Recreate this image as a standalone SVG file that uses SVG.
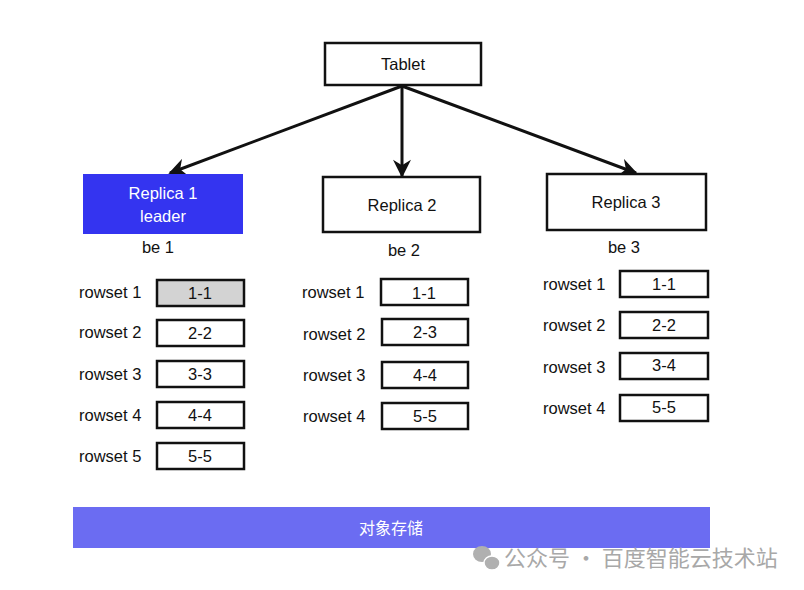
<svg xmlns="http://www.w3.org/2000/svg" width="804" height="590" viewBox="0 0 804 590">
<style>
text{font-family:"Liberation Sans",Arial,sans-serif;font-size:16.5px;fill:#111;}
.c{text-anchor:middle;dominant-baseline:central;}
.box{fill:#fff;stroke:#111;stroke-width:2.5;}
.rs{fill:#fff;stroke:#111;stroke-width:2.5;}
.lbl{text-anchor:start;dominant-baseline:central;}
.conn{stroke:#111;stroke-width:3;fill:none;marker-end:url(#ah);}
.wm{font-family:"Noto Sans CJK SC",sans-serif;font-size:22px;fill:#a8a8a8;}
</style>
<defs>
<marker id="ah" viewBox="0 0 10 10" refX="9" refY="5" markerWidth="6.5" markerHeight="6" orient="auto" markerUnits="strokeWidth">
<path d="M0,0 L10,5 L0,10 L3,5 z" fill="#111"/>
</marker>
</defs>
<rect width="804" height="590" fill="#fff"/>
<g id="connectors">
<line class="conn" x1="402" y1="86" x2="170" y2="173"/>
<line class="conn" x1="402" y1="86" x2="402" y2="176"/>
<line class="conn" x1="402" y1="86" x2="636" y2="173"/>
</g>
<g id="tablet">
<rect class="box" x="325" y="43" width="156" height="42"/>
<text class="c" x="403" y="64">Tablet</text>
</g>
<g id="replica1">
<rect x="83" y="174" width="160" height="60" fill="#3434f0"/>
<text class="c" x="163" y="193" style="fill:#fff">Replica 1</text>
<text class="c" x="163" y="216" style="fill:#fff">leader</text>
<text class="c" x="158" y="247">be 1</text>
</g>
<g id="replica2">
<rect class="box" x="323" y="177" width="157" height="55"/>
<text class="c" x="402" y="205">Replica 2</text>
<text class="c" x="404" y="250">be 2</text>
</g>
<g id="replica3">
<rect class="box" x="547" y="174" width="159" height="56"/>
<text class="c" x="626" y="202">Replica 3</text>
<text class="c" x="624" y="247">be 3</text>
</g>
<g id="r1-rowsets">
<text class="lbl" x="79" y="292">rowset 1</text>
<rect x="157" y="280" width="87" height="26" fill="#d3d3d3" stroke="#111" stroke-width="2.5"/>
<text class="c" x="200" y="293">1-1</text>
<text class="lbl" x="79" y="332">rowset 2</text>
<rect class="rs" x="157" y="320" width="87" height="26"/>
<text class="c" x="200" y="333">2-2</text>
<text class="lbl" x="79" y="374">rowset 3</text>
<rect class="rs" x="157" y="361" width="87" height="26"/>
<text class="c" x="200" y="374">3-3</text>
<text class="lbl" x="79" y="415">rowset 4</text>
<rect class="rs" x="157" y="402" width="87" height="26"/>
<text class="c" x="200" y="415">4-4</text>
<text class="lbl" x="79" y="456">rowset 5</text>
<rect class="rs" x="157" y="443" width="87" height="26"/>
<text class="c" x="200" y="456">5-5</text>
</g>
<g id="r2-rowsets">
<text class="lbl" x="302" y="292">rowset 1</text>
<rect class="rs" x="381" y="279" width="87" height="26"/>
<text class="c" x="424" y="293">1-1</text>
<text class="lbl" x="303" y="334">rowset 2</text>
<rect class="rs" x="382" y="319" width="86" height="26"/>
<text class="c" x="425" y="332">2-3</text>
<text class="lbl" x="303" y="375">rowset 3</text>
<rect class="rs" x="382" y="362" width="86" height="26"/>
<text class="c" x="425" y="375">4-4</text>
<text class="lbl" x="303" y="416">rowset 4</text>
<rect class="rs" x="382" y="403" width="86" height="26"/>
<text class="c" x="425" y="416">5-5</text>
</g>
<g id="r3-rowsets">
<text class="lbl" x="543" y="284">rowset 1</text>
<rect class="rs" x="620" y="271" width="88" height="26"/>
<text class="c" x="664" y="284">1-1</text>
<text class="lbl" x="543" y="325">rowset 2</text>
<rect class="rs" x="620" y="312" width="88" height="26"/>
<text class="c" x="664" y="325">2-2</text>
<text class="lbl" x="543" y="367">rowset 3</text>
<rect class="rs" x="620" y="353" width="88" height="26"/>
<text class="c" x="664" y="365">3-4</text>
<text class="lbl" x="543" y="408">rowset 4</text>
<rect class="rs" x="620" y="395" width="88" height="26"/>
<text class="c" x="664" y="407">5-5</text>
</g>
<g id="storage">
<rect x="73" y="507" width="637" height="41" fill="#6b6cf2"/>
<text class="c" x="391" y="527" style="fill:#fff;font-family:'Noto Sans CJK SC',sans-serif;font-size:16px">对象存储</text>
</g>
<g id="watermark">
<ellipse cx="482" cy="554" rx="9" ry="8" fill="#b0b0b0"/>
<ellipse cx="492" cy="563" rx="8" ry="7" fill="#b0b0b0" stroke="#fff" stroke-width="1.5"/>
<text class="wm" x="504" y="566">公众号 · 百度智能云技术站</text>
</g>
</svg>
